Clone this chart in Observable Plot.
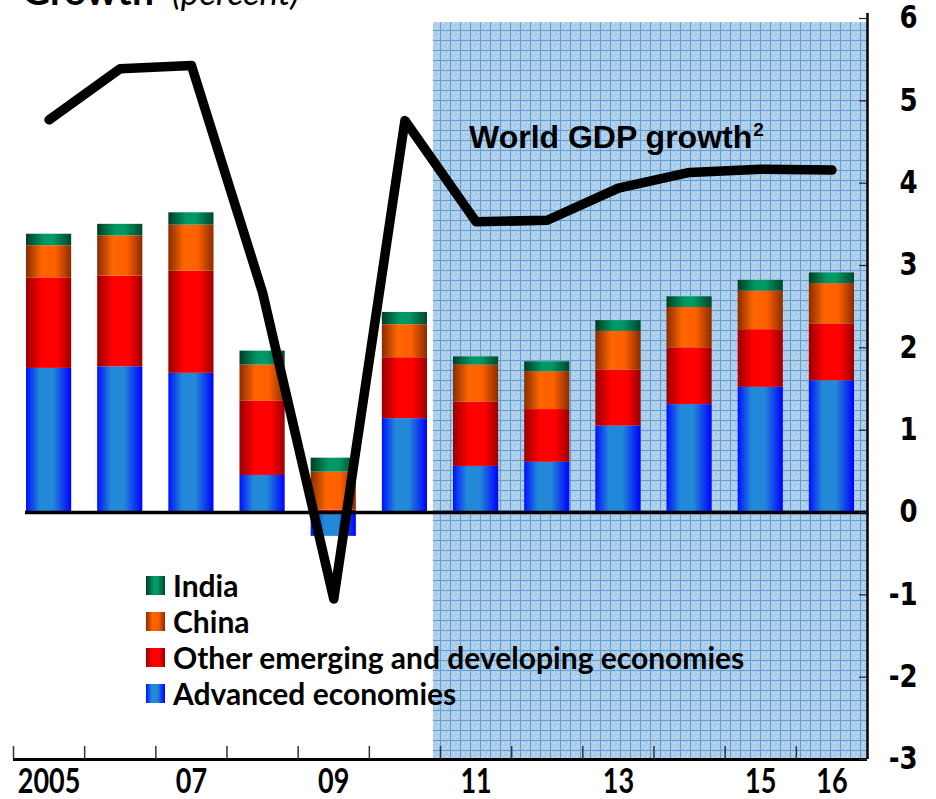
<!DOCTYPE html>
<html><head><meta charset="utf-8">
<script src="https://cdn.jsdelivr.net/npm/d3@7"></script>
<script src="https://cdn.jsdelivr.net/npm/@observablehq/plot@0.6"></script>
<style>
body{margin:0;background:#fff;}
#wrap{position:relative;width:936px;height:799px;overflow:hidden;}
#title{position:absolute;left:22px;top:-29px;line-height:1;white-space:nowrap;font-family:Lato,sans-serif;}
#title b{font-size:39px;font-weight:bold;}
#title i{font-size:35px;font-style:italic;margin-left:18px;}
#chart{position:absolute;left:0;top:0;}
#legend{position:absolute;left:146px;top:567px;font-family:Lato,sans-serif;font-weight:bold;font-size:30px;}
#legend .row{height:36px;display:flex;align-items:center;white-space:nowrap;}
#legend .sw{width:19px;height:19px;margin-right:8px;flex:none;}
#wlabel{position:absolute;left:469px;top:115px;font-family:"Liberation Sans",Arial,sans-serif;font-weight:bold;font-size:32px;line-height:30px;white-space:nowrap;}
#wlabel sup{font-size:19px;vertical-align:12px;margin-left:1px;}
</style></head><body>
<div id="wrap">
  <div id="chart"></div>
  <div id="title"><b>Growth</b><i>(percent)</i></div>
  <div id="legend"></div>
  <div id="wlabel">World GDP growth<sup>2</sup></div>
</div>
<script>
// ---- data ----
const years = [2005, 2006, 2007, 2008, 2009, 2010, 2011, 2012, 2013, 2014, 2015, 2016];
const advanced      = [1.75, 1.77, 1.69, 0.45, -0.29, 1.14, 0.56, 0.61, 1.05, 1.31, 1.52, 1.60];
const otherEmerging = [1.10, 1.10, 1.24, 0.90, 0.03, 0.74, 0.78, 0.64, 0.68, 0.69, 0.70, 0.69];
const china         = [0.39, 0.49, 0.56, 0.44, 0.46, 0.40, 0.45, 0.46, 0.47, 0.49, 0.47, 0.49];
const india         = [0.14, 0.14, 0.15, 0.17, 0.17, 0.15, 0.10, 0.12, 0.13, 0.13, 0.13, 0.13];
const worldGDP      = [4.77, 5.39, 5.43, 2.67, -1.05, 4.76, 3.53, 3.55, 3.94, 4.13, 4.17, 4.16];
const seriesNames = ["Advanced economies", "Other emerging and developing economies", "China", "India"];
const xLabelYears = [2005, 2007, 2009, 2011, 2013, 2015, 2016];
const xLabelTexts = ["2005", "07", "09", "11", "13", "15", "16"];
const yTicks = [-3, -2, -1, 0, 1, 2, 3, 4, 5, 6];
const projectionStart = 2010.4;

// ---- styles ----
const gradients = [
  {id: "gAdv",   stops: [[0, "#0010ff"], [0.3, "#2288d8"], [0.6, "#2288d8"], [1, "#0000ff"]]},
  {id: "gOther", stops: [[0, "#9a0000"], [0.35, "#ff0000"], [0.7, "#ff0000"], [1, "#990000"]]},
  {id: "gChina", stops: [[0, "#8a2c00"], [0.35, "#ff6600"], [0.65, "#ff5f00"], [1, "#8a2c00"]]},
  {id: "gIndia", stops: [[0, "#003d22"], [0.4, "#009966"], [0.6, "#009966"], [1, "#00472a"]]}
];

const seriesValues = [advanced, otherEmerging, china, india];
const barData = years.flatMap((yr, i) => seriesNames.map((s, k) => ({year: yr, series: s, value: seriesValues[k][i]})));
const gdpData = years.map((yr, i) => ({year: yr, value: worldGDP[i]}));
const xLabelData = xLabelYears.map((yr, i) => ({year: yr, label: xLabelTexts[i]}));
const xMin = years[0] - 0.5, xMax = years[years.length - 1] + 0.5;
const boundaries = years.map(y => y - 0.5);
const projection = [{start: projectionStart, end: xMax, low: yTicks[0], high: 5.95}];

const W = 936, H = 799, mL = 13, mR = 69, mT = 18, mB = 40;
const plotW = W - mL - mR, plotH = H - mT - mB;

const chart = Plot.plot({
  width: W, height: H,
  marginLeft: mL, marginRight: mR, marginTop: mT, marginBottom: mB,
  x: {domain: [xMin, xMax], axis: null},
  y: {domain: [yTicks[0], yTicks[yTicks.length - 1]], axis: null},
  color: {domain: seriesNames, range: gradients.map(g => `url(#${g.id})`)},
  style: {background: "white", overflow: "visible"},
  marks: [
    Plot.rect(projection, {x1: "start", x2: "end", y1: "low", y2: "high", fill: "url(#gridpat)"}),
    Plot.rectY(barData, {x1: d => d.year - 0.5, x2: d => d.year + 0.5, y: "value", fill: "series", insetLeft: 13, insetRight: 13}),
    Plot.ruleY([0], {stroke: "black", strokeWidth: 3.5, insetLeft: 12}),
    Plot.ruleY([yTicks[0]], {stroke: "black", strokeWidth: 3}),
    Plot.ruleX([xMax], {stroke: "black", strokeWidth: 2.5, insetTop: -5}),
    Plot.tickY(yTicks, {y: d => d, stroke: "#222", strokeWidth: 1.2, insetLeft: plotW - 8}),
    Plot.tickX(boundaries, {x: d => d, stroke: "#333", strokeWidth: 1.5, insetTop: plotH - 13}),
    Plot.line(gdpData, {x: "year", y: "value", stroke: "black", strokeWidth: 9.5, strokeLinejoin: "round", strokeLinecap: "round"}),
    Plot.text(xLabelData, {x: "year", text: "label", frameAnchor: "bottom", dy: 33, fontSize: 27, fontWeight: "bold", fontFamily: "Lato", fill: "black"}),
    Plot.text(yTicks, {y: d => d, text: d => String(d), frameAnchor: "right", textAnchor: "end", dx: 50, fontSize: 26, fontWeight: "bold", fontFamily: "DejaVu Sans", fill: "black"})
  ]
});
document.getElementById("chart").appendChild(chart);

// defs: gradients and grid pattern
const ns = "http://www.w3.org/2000/svg";
const defs = document.createElementNS(ns, "defs");
for (const g of gradients) {
  const lg = document.createElementNS(ns, "linearGradient");
  lg.setAttribute("id", g.id);
  lg.setAttribute("x1", "0"); lg.setAttribute("x2", "1"); lg.setAttribute("y1", "0"); lg.setAttribute("y2", "0");
  for (const [o, c] of g.stops) {
    const st = document.createElementNS(ns, "stop");
    st.setAttribute("offset", o); st.setAttribute("stop-color", c);
    lg.appendChild(st);
  }
  defs.appendChild(lg);
}
defs.innerHTML += `
<pattern id="gridpat" width="10" height="10" patternUnits="userSpaceOnUse">
  <rect width="10" height="10" fill="#abcde9"/>
  <rect x="3" y="3" width="1" height="1" fill="#e2eff9"/>
  <rect x="7" y="6" width="1" height="1" fill="#e2eff9"/>
  <rect x="5" y="8" width="1" height="1" fill="#d6e8f6"/>
  <rect x="2" y="7" width="1" height="1" fill="#d6e8f6"/>
  <rect x="8" y="2" width="1" height="1" fill="#e2eff9"/>
  <path d="M0,0.5H10M0.5,0V10" stroke="#629fd4" stroke-width="1"/>
</pattern>`;
chart.insertBefore(defs, chart.firstChild);

// stretch tick labels vertically like the original
const xs = new Set(xLabelTexts), ys = new Set(yTicks.map(String));
chart.querySelectorAll("text").forEach(t => {
  const s = t.textContent;
  const k = xs.has(s) ? 1.3 : ys.has(s) ? 1.2 : null;
  if (!k) return;
  const tr = t.getAttribute("transform");
  if (tr) t.setAttribute("transform", tr + ` scale(1,${k})`);
});

// legend
const legend = document.getElementById("legend");
[...seriesNames.keys()].reverse().forEach(k => {
  const g = gradients[k];
  const row = document.createElement("div"); row.className = "row";
  const sw = document.createElement("div"); sw.className = "sw";
  sw.style.background = `linear-gradient(to right, ${g.stops.map(([o, c]) => `${c} ${o * 100}%`).join(", ")})`;
  const tx = document.createElement("span"); tx.textContent = seriesNames[k];
  row.appendChild(sw); row.appendChild(tx); legend.appendChild(row);
});
</script>
</body></html>
